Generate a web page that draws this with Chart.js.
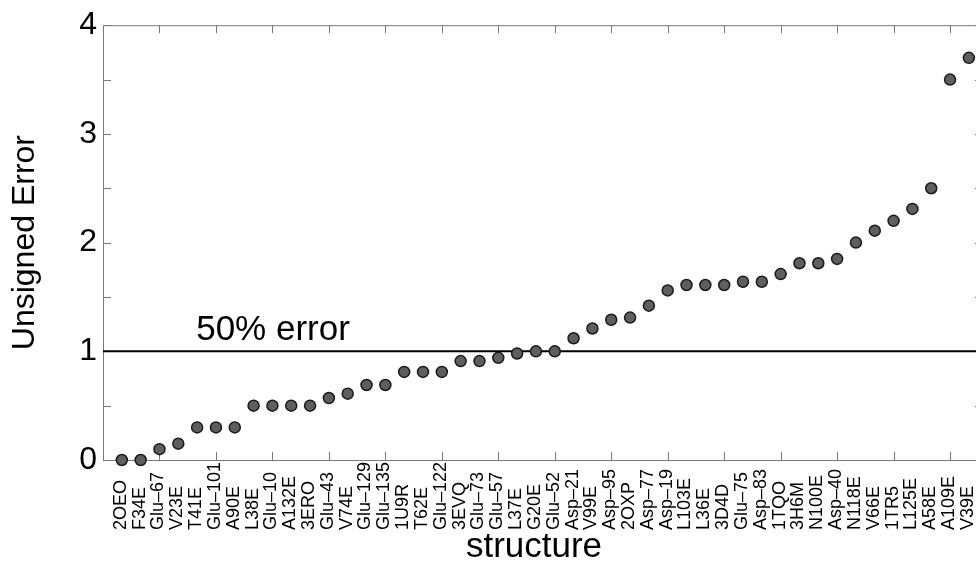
<!DOCTYPE html>
<html>
<head>
<meta charset="utf-8">
<script src="https://cdn.jsdelivr.net/npm/chart.js@4.4.1/dist/chart.umd.min.js"></script>
<style>
  html, body { margin: 0; padding: 0; background: #fff; overflow: hidden; }
  #wrap { width: 990px; height: 563px; }
</style>
</head>
<body>
<div id="wrap"><canvas id="grafico"></canvas></div>
<script>
// nombres de las estructuras (eje x)
const estructuras = ["2OEO", "F34E", "Glu–67", "V23E", "T41E", "Glu–101", "A90E", "L38E", "Glu–10", "A132E",
    "3ERO", "Glu–43", "V74E", "Glu–129", "Glu–135", "1U9R", "T62E", "Glu–122", "3EVQ", "Glu–73",
    "Glu–57", "L37E", "G20E", "Glu–52", "Asp–21", "V99E", "Asp–95", "2OXP", "Asp–77", "Asp–19",
    "L103E", "L36E", "3D4D", "Glu–75", "Asp–83", "1TQO", "3H6M", "N100E", "Asp–40", "N118E",
    "V66E", "1TR5", "L125E", "A58E", "A109E", "V39E"];

// error sin signo de cada estructura
const errores = [0, 0, 0.1, 0.15, 0.3, 0.3, 0.3, 0.5, 0.5, 0.5,
    0.5, 0.57, 0.61, 0.69, 0.69, 0.81, 0.81, 0.81, 0.91, 0.91,
    0.94, 0.98, 1.0, 1.0, 1.12, 1.21, 1.29, 1.31, 1.42, 1.56,
    1.61, 1.61, 1.61, 1.64, 1.64, 1.71, 1.81, 1.81, 1.85, 2.0,
    2.11, 2.2, 2.31, 2.5, 3.5, 3.7];

// linea de referencia
const valorReferencia = 1;
const textoReferencia = "50% error";
const xTexto = 4.95;

const yTicks = [0, 0.5, 1, 1.5, 2, 2.5, 3, 3.5, 4];
const xMax = 46.75;
const tituloX = "structure";

const fuente = "'Liberation Sans', Arial, Helvetica, sans-serif";

// marco, marcas hacia adentro y etiquetas giradas (alineadas abajo, como en MATLAB)
const marcoPlugin = {
    id: "marco",
    beforeDatasetsDraw(chart) {
        const { ctx, chartArea: a, scales } = chart;
        ctx.save();
        ctx.strokeStyle = "#7a7a7a";
        ctx.lineWidth = 1;
        ctx.strokeRect(a.left + 0.5, a.top + 0.5, a.right - a.left, a.bottom - a.top);
        const largo = 8;
        ctx.beginPath();
        yTicks.forEach((v) => {
            const y = Math.round(scales.y.getPixelForValue(v)) + 0.5;
            ctx.moveTo(a.left, y); ctx.lineTo(a.left + largo, y);
            ctx.moveTo(a.right, y); ctx.lineTo(a.right - largo, y);
        });
        for (let v = 3; v < xMax; v += 3) {
            const x = Math.round(scales.x.getPixelForValue(v)) + 0.5;
            ctx.moveTo(x, a.bottom); ctx.lineTo(x, a.bottom - largo);
            ctx.moveTo(x, a.top); ctx.lineTo(x, a.top + largo);
        }
        ctx.stroke();

        // etiquetas del eje x
        ctx.fillStyle = "#000";
        ctx.font = "18px " + fuente;
        ctx.textAlign = "left";
        ctx.textBaseline = "middle";
        estructuras.forEach((nombre, i) => {
            ctx.save();
            ctx.translate(scales.x.getPixelForValue(i + 1) - 1, a.bottom + 70);
            ctx.rotate(-Math.PI / 2);
            ctx.fillText(nombre, 0, 0);
            ctx.restore();
        });

        // titulo del eje x
        ctx.font = "35px " + fuente;
        ctx.textAlign = "center";
        ctx.textBaseline = "alphabetic";
        ctx.fillText(tituloX, 534, 557);
        ctx.restore();
    },
    afterDatasetsDraw(chart) {
        const { ctx, scales } = chart;
        ctx.save();
        ctx.fillStyle = "#000";
        ctx.font = "35px " + fuente;
        ctx.textAlign = "left";
        ctx.textBaseline = "alphabetic";
        ctx.fillText(textoReferencia, scales.x.getPixelForValue(xTexto), scales.y.getPixelForValue(valorReferencia) - 11);
        ctx.restore();
    }
};

const ctx = document.getElementById("grafico").getContext("2d");
new Chart(ctx, {
    type: "scatter",
    data: {
        datasets: [{
            label: "error",
            data: errores.map((e, i) => ({ x: i + 1, y: e })),
            pointRadius: 5.5,
            pointBackgroundColor: "#5e5e5e",
            pointBorderColor: "#1a1a1a",
            pointBorderWidth: 1.5,
            clip: false,
            order: 1
        }, {
            type: "line",
            label: textoReferencia,
            data: [{ x: 0, y: valorReferencia }, { x: xMax, y: valorReferencia }],
            borderColor: "#000",
            borderWidth: 2,
            pointRadius: 0,
            order: 2
        }]
    },
    options: {
        responsive: true,
        maintainAspectRatio: false,
        animation: false,
        events: [],
        layout: { padding: { top: 25, right: 7, left: 0, bottom: 0 } },
        plugins: { legend: { display: false }, tooltip: { enabled: false } },
        scales: {
            x: {
                type: "linear",
                min: 0,
                max: xMax,
                grid: { display: false, drawTicks: false },
                border: { display: false },
                afterFit: (s) => { s.height = 103; s.paddingLeft = 0; s.paddingRight = 0; },
                ticks: { display: false },
                title: { display: false }
            },
            y: {
                min: 0,
                max: 4,
                grid: { display: false, drawTicks: false },
                border: { display: false },
                afterBuildTicks: (s) => { s.ticks = yTicks.map((v) => ({ value: v })); },
                afterFit: (s) => { s.width = 103; },
                ticks: {
                    padding: 6,
                    color: "#000",
                    font: { family: fuente, size: 32 },
                    callback: (v) => (Number.isInteger(v) ? v : "")
                },
                title: {
                    display: true,
                    text: "Unsigned Error",
                    color: "#000",
                    font: { family: fuente, size: 32 },
                    padding: { top: 6, bottom: 0 }
                }
            }
        }
    },
    plugins: [marcoPlugin]
});
</script>
</body>
</html>
